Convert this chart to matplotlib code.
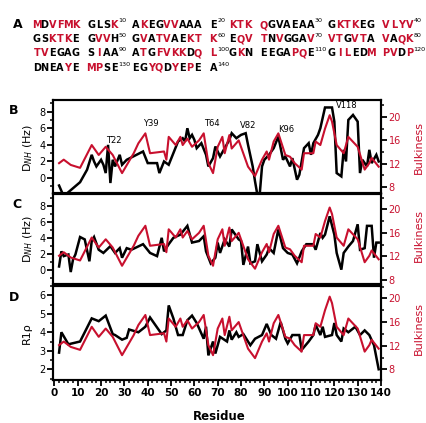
import matplotlib
matplotlib.use("Agg")
import matplotlib.pyplot as plt
from matplotlib.ticker import MultipleLocator

RED = '#c8102e'

# ---- panel A: sequence blocks and colour masks (r = red, k = black)
seq_rows = [
    ["MDVFMK GLSK", "AKEGVVAAA E", "KTK QGVAEAA", "GKTKEG VLYV"],
    ["GSKTKE GVVH", "GVATVAEKT K", "EQV TNVGGAV", "VTGVTA VAQK"],
    ["TVEGAG SIAA", "ATGFVKKDQ L", "GKN EEGAPQE", "GILEDM PVDP"],
    ["DNEAYE MPSE", "EGYQDYEPE A"],
]
col_rows = [
    ["rkrrrr kkkr", "krkkrrkkk k", "rrr rkkkkkk", "krrrkk rrrr"],
    ["kkrrrk krrk", "krkrrkkrr r", "krr rkrkkkr", "rrkrrk rkrr"],
    ["rrkkkk krkk", "krkrrrrkr r", "krk kkkkrrk", "krrkkr rrkr"],
    ["kkkkrk rrkk", "kkrrkrkrk k"],
]
block_nums = [[10, 20, 30, 40], [50, 60, 70, 80], [90, 100, 110, 120], [130, 140]]

# ---- bulkiness (same profile in B, C, D)
bulk_res = [2, 4, 7, 11, 16, 19, 22, 25, 29, 34, 36, 39, 41, 47, 48, 49, 52, 54, 55, 57,
            59, 62, 64, 66, 68, 70, 72, 73, 75, 76, 79, 83, 86, 89, 91, 92, 94, 96, 99, 101,
            103, 106, 107, 111, 112, 114, 116, 118, 119, 121, 124, 126, 130, 133, 135, 136, 139]
bulk_val = [12.1, 12.7, 11.8, 11.3, 15.2, 13.5, 14.9, 13.5, 10.4, 13.8, 15.5, 17.2, 13.8, 14.1,
            12.7, 16.6, 15.2, 16.6, 15.2, 16.3, 14.9, 16.0, 17.2, 12.1, 10.4, 14.9, 16.6, 13.8,
            16.9, 14.6, 16.0, 11.5, 9.9, 12.7, 14.1, 12.7, 15.8, 17.2, 13.5, 13.2, 12.1, 11.0,
            13.8, 13.8, 15.8, 15.2, 18.0, 20.3, 19.2, 15.2, 13.8, 16.6, 14.9, 11.0, 12.1, 13.0, 11.5]

# ---- panel B: D_NH
dnh_b_res = [2, 4, 6, 11, 14, 16, 17, 18, 20, 21, 22, 23, 24, 25, 26, 28, 29, 31, 38, 40,
             44, 45, 47, 49, 53, 55, 56, 57, 58, 59, 60, 61, 63, 65, 66, 68, 69, 71, 73, 75,
             76, 78, 80, 82, 83, 85, 86, 87, 88, 89, 90, 92, 94, 96, 98, 99, 101, 102, 104, 105,
             107, 109, 110, 111, 113, 114, 116, 119, 120, 121, 123, 124, 125, 126, 128, 130, 131,
             132, 134, 135, 136, 138, 139]
dnh_b_val = [-0.9, -2.2, -1.7, -0.5, 1.0, 2.8, 2.0, 1.4, 2.2, 1.6, 0.6, 4.0, -0.6, 2.2, 1.4, 2.8,
             1.6, 2.2, 3.2, 1.8, 1.8, 0.6, 2.0, 1.6, 4.4, 4.8, 4.4, 6.0, 4.8, 5.2, 4.6, 3.6, 4.2,
             2.8, 1.4, 2.4, 3.8, 2.6, 3.6, 4.6, 5.4, 4.8, 5.2, 5.4, 4.0, 1.4, -0.4, -2.0, -2.0,
             1.4, 2.2, 2.8, 3.6, 5.0, 2.2, 2.6, 1.4, 2.4, -0.2, 0.4, 3.6, 4.2, 2.8, 4.2, 5.2, 6.0,
             8.5, 8.5, 6.8, 0.6, 0.2, 3.4, 2.0, 7.0, 7.6, 6.8, 0.6, 2.2, 1.4, 3.4, 1.8, 2.8, 2.0]
b_labels = ["T22", "Y39", "T64", "V82", "K96", "V118"]
b_label_x = [25.5, 41.5, 67.5, 83, 99.5, 125.5]
b_label_y = [4.0, 6.0, 6.0, 5.8, 5.3, 8.2]

# ---- panel C: D_NH
dnh_c_res = [2, 3, 4, 6, 7, 8, 9, 11, 13, 15, 16, 17, 19, 21, 24, 26, 28, 29, 31, 33, 38, 41,
             44, 46, 47, 49, 51, 54, 57, 59, 62, 64, 65, 67, 69, 70, 71, 73, 75, 76, 79, 80, 81,
             83, 84, 86, 87, 89, 91, 92, 94, 96, 98, 100, 102, 104, 106, 108, 111, 112, 114, 115,
             116, 118, 120, 121, 123, 124, 126, 128, 130, 131, 133, 134, 136, 137, 138, 139]
dnh_c_val = [0.4, 2.3, 1.7, 1.9, -0.3, 1.3, 1.9, 4.1, 3.8, 1.05, 3.6, 4.1, 2.5, 2.1, 2.95, 2.1,
             2.7, 1.5, 2.7, 2.5, 3.2, 2.1, 1.7, 4.0, 2.3, 3.2, 4.0, 4.4, 5.5, 3.4, 3.6, 4.2, 2.3,
             0.8, 1.5, 3.4, 2.1, 3.8, 2.9, 5.05, 3.8, 3.6, 0.6, 2.9, 0.8, 1.05, 3.2, 1.05, 1.9,
             2.7, 2.1, 5.05, 2.7, 2.1, 1.9, 0.8, 2.3, 3.2, 3.2, 2.5, 4.6, 4.0, 4.4, 6.7, 4.4, 2.1,
             0.0, 2.1, 2.9, 3.6, 5.7, 2.5, 2.7, 5.5, 5.5, 1.5, 3.4, 3.4]

# ---- panel D: R1rho
r1p_res = [2, 3, 6, 11, 16, 19, 22, 25, 26, 29, 31, 32, 36, 39, 41, 46, 48, 49, 51, 53, 55, 57,
           59, 61, 64, 65, 66, 68, 69, 71, 74, 75, 76, 78, 79, 81, 84, 86, 89, 91, 93, 95, 97,
           99, 100, 102, 105, 106, 109, 111, 112, 114, 115, 116, 119, 120, 121, 123, 124, 126,
           129, 131, 133, 135, 137, 139]
r1p_val = [2.9, 4.0, 3.35, 3.5, 4.75, 4.6, 4.9, 3.9, 3.85, 3.6, 3.7, 4.15, 4.0, 4.3, 4.8, 3.9,
           4.1, 5.45, 4.75, 3.85, 3.85, 4.65, 4.9, 4.5, 3.65, 4.3, 2.75, 3.5, 2.85, 3.75, 3.5,
           4.1, 3.6, 4.0, 3.75, 3.9, 3.3, 3.65, 3.85, 4.45, 3.85, 3.65, 4.55, 3.65, 3.4, 3.85,
           3.85, 3.05, 3.5, 3.85, 4.4, 3.85, 4.3, 3.75, 3.85, 4.5, 3.85, 3.5, 4.2, 4.0, 4.3,
           3.85, 4.1, 3.85, 3.3, 2.0]

W, H = 427, 423
fig = plt.figure(figsize=(W / 100, H / 100), dpi=100)


def rect(l, t, r, b):
    return [l / W, 1 - b / H, (r - l) / W, (b - t) / H]


def px(x, y):
    return x / W, 1 - y / H


# sequence text, letter by letter
row_y = [25, 39.5, 53.5, 68]
block_x = [33, 132, 229, 328]
adv = 7.75
for ri, row in enumerate(seq_rows):
    for bi, block in enumerate(row):
        x0 = block_x[bi]
        for ci, ch in enumerate(block):
            if ch == ' ':
                continue
            c = RED if col_rows[ri][bi][ci] == 'r' else 'black'
            fig.text(*px(x0 + (ci + 0.5) * adv, row_y[ri]), ch, color=c, fontsize=7,
                     fontweight='bold', ha='center', va='center')
        fig.text(*px(x0 + len(block) * adv + 0.3, row_y[ri] - 4), str(block_nums[ri][bi]),
                 fontsize=4.6, ha='left', va='center')

for lab, (x, y) in zip("ABCD", [(18, 25), (14, 110), (17, 205), (14, 297)]):
    fig.text(*px(x, y), lab, fontsize=9, fontweight='bold', ha='center', va='center')

axB = fig.add_axes(rect(53, 100, 381, 193))
axC = fig.add_axes(rect(53, 194, 381, 284))
axD = fig.add_axes(rect(53, 286, 381, 380))

panels = [
    (axB, dnh_b_res, dnh_b_val, (-1.8, 9.4), (7.0, 22.9), 2, 1),
    (axC, dnh_c_res, dnh_c_val, (-1.8, 9.5), (7.3, 22.6), 2, 1),
    (axD, r1p_res, r1p_val, (1.42, 6.5), (6.2, 22.1), 1, 0.5),
]
for ax, xr, yv, yl, yr, maj, mnr in panels:
    ax.plot(xr, yv, color='black', lw=1.8, solid_joinstyle='miter')
    ax.set_xlim(-0.6, 140)
    ax.set_ylim(*yl)
    ax.yaxis.set_major_locator(MultipleLocator(maj))
    ax.yaxis.set_minor_locator(MultipleLocator(mnr))
    ax.tick_params(axis='y', which='major', length=4, width=1.3, labelsize=7, pad=1.5)
    ax.tick_params(axis='y', which='minor', length=2.5, width=1.1)
    for s in ax.spines.values():
        s.set_linewidth(1.5)
    tw = ax.twinx()
    tw.plot(bulk_res, bulk_val, color=RED, lw=1.5)
    tw.set_ylim(*yr)
    tw.yaxis.set_minor_locator(MultipleLocator(2))
    tw.set_yticks([8, 12, 16, 20])
    tw.tick_params(axis='y', which='major', length=4, width=1.3, labelsize=7,
                   labelcolor=RED, pad=1.5)
    tw.tick_params(axis='y', which='minor', length=2.5, width=1.1)
    for s in tw.spines.values():
        s.set_linewidth(1.5)

for ax in (axB, axC):
    ax.set_xticks([])

axD.xaxis.set_major_locator(MultipleLocator(10))
axD.xaxis.set_minor_locator(MultipleLocator(2))
axD.tick_params(axis='x', which='major', length=4, width=1.3, labelsize=7.5, pad=2)
axD.tick_params(axis='x', which='minor', length=2.5, width=1.1)
for t in axD.get_xticklabels():
    t.set_fontweight('bold')
axD.set_yticks([2, 3, 4, 5, 6])

for t, x, y in zip(b_labels, b_label_x, b_label_y):
    axB.text(x, y, t, fontsize=6, ha='center', va='bottom')

fig.text(*px(28, 148), 'D$_{NH}$ (Hz)', rotation=90, fontsize=8, ha='center', va='center')
fig.text(*px(28, 239), 'D$_{NH}$ (Hz)', rotation=90, fontsize=8, ha='center', va='center')
fig.text(*px(27, 333), 'R1\u03c1', rotation=90, fontsize=8, ha='center', va='center')
for y in (147, 235, 328):
    fig.text(*px(419, y), 'Bulkiness', rotation=90, fontsize=8, color=RED,
             ha='center', va='center')
fig.text(*px(219, 416), 'Residue', fontsize=8.5, fontweight='bold', ha='center', va='center')

fig.savefig('out.png', dpi=100)
